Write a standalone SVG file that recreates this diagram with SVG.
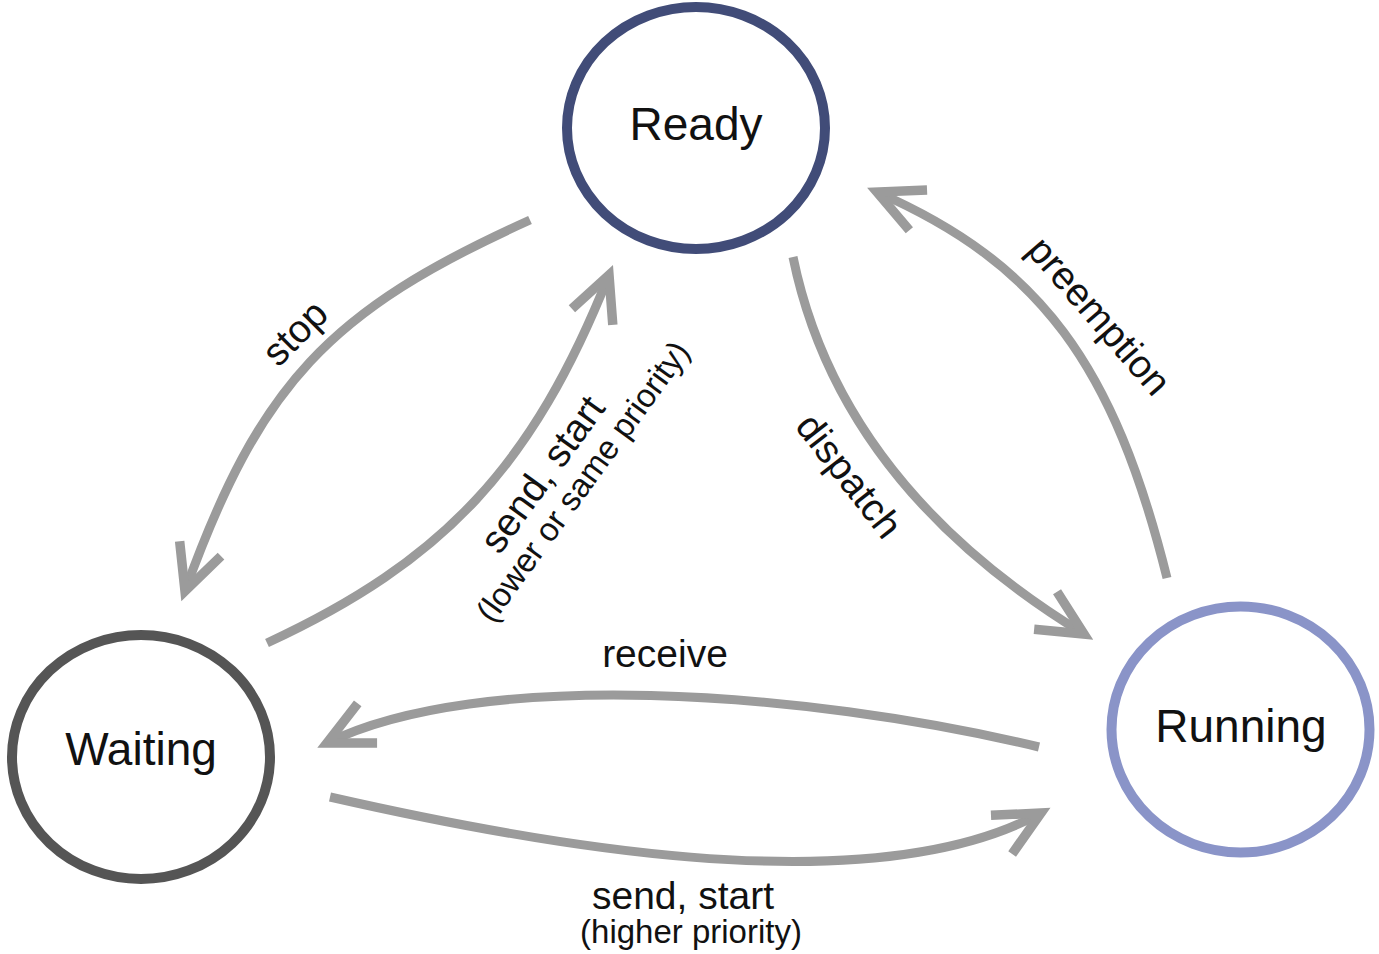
<svg xmlns="http://www.w3.org/2000/svg" width="1379" height="954" viewBox="0 0 1379 954">
  <style>
    .node { fill: #ffffff; stroke-width: 10; }
    .nlabel { font-family: "Liberation Sans", Arial, sans-serif; font-size: 46px; fill: #111111; text-anchor: middle; }
    .edge { fill: none; stroke: #9b9b9b; stroke-width: 9; stroke-linecap: butt; marker-end: url(#arrow); }
    .elabel { font-family: "Liberation Sans", Arial, sans-serif; font-size: 39px; fill: #111111; text-anchor: middle; }
    .esub { font-family: "Liberation Sans", Arial, sans-serif; font-size: 33px; fill: #111111; text-anchor: middle; }
  </style>
  <defs>
    <marker id="arrow" markerUnits="userSpaceOnUse" orient="auto" refX="0" refY="0" markerWidth="80" markerHeight="80" viewBox="-60 -40 80 80" overflow="visible">
      <path d="M -45,-22 L 0,0 L -45,22" fill="none" stroke="#9b9b9b" stroke-width="9.5" stroke-linejoin="miter" stroke-miterlimit="10"/>
    </marker>
  </defs>
  <rect width="1379" height="954" fill="#ffffff"/>

  <g id="connectors">
    <path id="e-stop" class="edge" d="M 530,220 C 328,311 260,384 185,591"/>
    <path id="e-send-lower" class="edge" d="M 267,643 C 444,561 533,466 609,275"/>
    <path id="e-dispatch" class="edge" d="M 793,257 C 829,433 948,551 1084,634"/>
    <path id="e-preemption" class="edge" d="M 1167,578 C 1114,365 1041,264 877,192"/>
    <path id="e-receive" class="edge" d="M 1039,747 C 800,690 480,668 327,743"/>
    <path id="e-send-higher" class="edge" d="M 330,797 C 519,840 866,909 1041,813"/>

    <text class="elabel" transform="translate(295,333) rotate(-45)" x="0" y="13">stop</text>
    <g transform="translate(553,482) rotate(-54)">
      <text class="elabel" x="0" y="0">send, start</text>
      <text class="esub" x="18" y="35">(lower or same priority)</text>
    </g>
    <text class="elabel" transform="translate(849,476) rotate(52)" x="0" y="13">dispatch</text>
    <text class="elabel" transform="translate(1099,316) rotate(49)" x="0" y="13">preemption</text>
    <text class="elabel" x="665" y="667">receive</text>
    <text class="elabel" x="683" y="909">send, start</text>
    <text class="esub" x="691" y="943">(higher priority)</text>
  </g>

  <g id="ready">
    <ellipse class="node" cx="696" cy="128" rx="129" ry="121" stroke="#414c78"/>
    <text class="nlabel" x="696" y="140">Ready</text>
  </g>
  <g id="waiting">
    <ellipse class="node" cx="141" cy="757" rx="129" ry="122" stroke="#555555"/>
    <text class="nlabel" x="141" y="765">Waiting</text>
  </g>
  <g id="running">
    <ellipse class="node" cx="1240.5" cy="729.5" rx="129" ry="123" stroke="#8a94c8"/>
    <text class="nlabel" x="1241" y="742">Running</text>
  </g>
</svg>
